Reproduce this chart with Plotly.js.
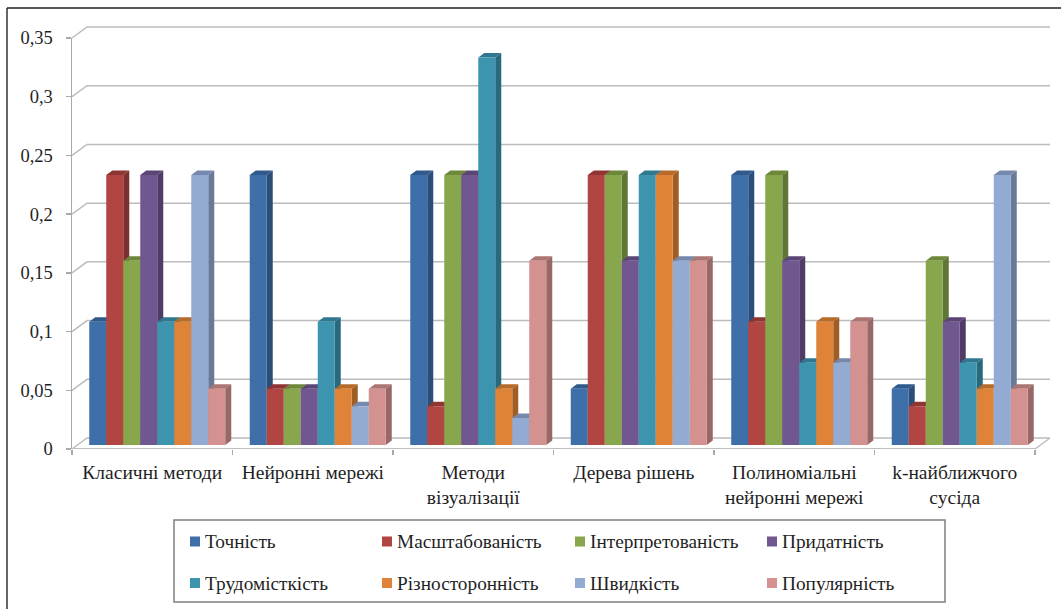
<!DOCTYPE html>
<html>
<head>
<meta charset="utf-8">
<script src="https://cdn.plot.ly/plotly-3.0.1.min.js"></script>
<style>html,body{margin:0;padding:0;background:#fff;overflow:hidden}#chart{width:1061px;height:609px}</style>
</head>
<body>
<div id="chart"></div>
<script>
const categories = ["Класичні методи","Нейронні мережі","Методи<br>візуалізації","Дерева рішень","Полиноміальні<br>нейронні мережі","k-найближчого<br>сусіда"];
const seriesNames = ["Точність","Масштабованість","Інтерпретованість","Придатність","Трудомісткість","Різносторонність","Швидкість","Популярність"];
const tochnist = [0.105,0.23,0.23,0.048,0.23,0.048];
const masshtab = [0.23,0.048,0.033,0.23,0.105,0.033];
const interpret = [0.157,0.048,0.23,0.23,0.23,0.157];
const prydatnist = [0.23,0.048,0.23,0.157,0.157,0.105];
const trudomist = [0.105,0.105,0.33,0.23,0.07,0.07];
const riznostor = [0.105,0.048,0.048,0.23,0.105,0.048];
const shvydkist = [0.23,0.033,0.023,0.157,0.07,0.23];
const populyarn = [0.048,0.048,0.157,0.157,0.105,0.048];
const seriesValues = [tochnist,masshtab,interpret,prydatnist,trudomist,riznostor,shvydkist,populyarn];
const yTicks = [0,0.05,0.1,0.15,0.2,0.25,0.3,0.35];
const yTickText = ["0","0,05","0,1","0,15","0,2","0,25","0,3","0,35"];
const frontColors = ["#3F6FA8","#B04542","#88A64C","#71578F","#3C94AF","#DE8337","#93AAD2","#D39190"];
const sideColors = ["#2A4E78","#7D2F2D","#5F7634","#4F3C66","#29697D","#A05D24","#687A98","#976865"];
const topColors = ["#305A8C","#8F3532","#6D883B","#5B4575","#2F7890","#B66B2B","#7688AD","#AB7573"];

const W = 1061, H = 609;
const FONT = "Liberation Serif, Times New Roman, serif";
const TEXT = "#1f1f1f";
const AXIS = "#a9a9a9", GRID = "#bcbcbc";
// projection, in pixels
const X0 = 72, CAT = 160.5, Y0 = 449, UNIT = 411 / 0.35;
const BACK_DX = 15, BACK_DY = 11, BAR_DX = 5, BAR_DY = 4, SIDE_DX = 6, SIDE_DY = 4.5;
const BAR_W = 17 / CAT, BARGAP = 1 - 8 * BAR_W;
const fx = p => p / W, fy = p => 1 - p / H;
const sceneX = (ox) => [(0 - X0 - ox) / CAT, (W - X0 - ox) / CAT];
const sceneY = (oy) => [(Y0 - oy - H) / UNIT, (Y0 - oy) / UNIT];

const traces = [];
// carrier for the labelled front axes
traces.push({type:"scatter",mode:"lines",x:[0,6],y:[0,0],xaxis:"x",yaxis:"y",line:{color:AXIS,width:1.5},hoverinfo:"skip",showlegend:false,cliponaxis:false});

// walls
const gx = [], gy = [];
const bdx = BACK_DX / CAT, bdy = BACK_DY / UNIT;
yTicks.forEach(v => { gx.push(0, bdx, 6 + bdx, null); gy.push(v, v + bdy, v + bdy, null); });
gx.push(6, 6 + bdx, null); gy.push(0, bdy, null);
traces.push({type:"scatter",mode:"lines",x:gx,y:gy,xaxis:"x2",yaxis:"y2",line:{color:GRID,width:1.5},hoverinfo:"skip",showlegend:false});

// depth faces, painted left to right
const sdx = SIDE_DX / CAT, sdy = SIDE_DY / UNIT;
seriesValues.forEach((vals, i) => {
  const sx = [], sy = [], tx = [], ty = [];
  vals.forEach((v, c) => {
    const l = c + 0.5 + (i - 4) * BAR_W, r = l + BAR_W;
    sx.push(r, r + sdx, r + sdx, r, r, null); sy.push(0, sdy, v + sdy, v, 0, null);
    tx.push(l, l + sdx, r + sdx, r, l, null); ty.push(v, v + sdy, v + sdy, v, v, null);
  });
  const face = (x, y, color) => ({type:"scatter",mode:"lines",x,y,fill:"toself",fillcolor:color,line:{width:0,color:color},xaxis:"x3",yaxis:"y3",hoverinfo:"skip",showlegend:false});
  traces.push(face(sx, sy, sideColors[i]));
  traces.push(face(tx, ty, topColors[i]));
});
// front faces
seriesValues.forEach((vals, i) => {
  traces.push({type:"bar",name:seriesNames[i],x:categories.map((_, c) => c + 0.5),y:vals,marker:{color:frontColors[i],line:{width:0}},xaxis:"x4",yaxis:"y4",showlegend:false});
});

const hiddenAxis = (range, extra) => Object.assign({range,domain:[0,1],visible:false,fixedrange:true}, extra);

const shapes = [
  {type:"line",xref:"paper",yref:"paper",x0:fx(7),x1:fx(7),y0:fy(8),y1:fy(H),line:{color:"#333",width:1.5}},
  {type:"line",xref:"paper",yref:"paper",x0:fx(7),x1:1,y0:fy(8),y1:fy(8),line:{color:"#222",width:1.5}},
  {type:"rect",xref:"paper",yref:"paper",x0:fx(174),x1:fx(945),y0:fy(520),y1:fy(602),line:{color:"#808080",width:1.5},fillcolor:"#fff"}
];
const annotations = [];
const colX = [190,382,575,767], rowY = [541.5,583];
seriesNames.forEach((n, i) => {
  const cx = colX[i % 4], cy = rowY[i < 4 ? 0 : 1];
  shapes.push({type:"rect",xref:"paper",yref:"paper",x0:fx(cx),x1:fx(cx+10),y0:fy(cy-5),y1:fy(cy+5),line:{width:0},fillcolor:frontColors[i]});
  annotations.push({xref:"paper",yref:"paper",x:fx(cx+13),y:fy(cy),xanchor:"left",yanchor:"middle",text:n,showarrow:false,font:{family:FONT,size:19.3,color:TEXT}});
});

const layout = {
  width:W,height:H,margin:{l:0,r:0,t:0,b:0},paper_bgcolor:"#fff",plot_bgcolor:"rgba(0,0,0,0)",
  showlegend:false,barmode:"group",bargap:BARGAP,bargroupgap:0,
  xaxis:{domain:[fx(X0),fx(X0+6*CAT)],range:[0,6],tickmode:"array",tickvals:categories.map((_, c) => c + 0.5),ticktext:categories,ticks:"",
    tickfont:{family:FONT,size:19.5,color:TEXT},ticklabelstandoff:9,showgrid:false,zeroline:false,fixedrange:true,
    minor:{tickmode:"array",tickvals:[0,1,2,3,4,5,6],ticks:"outside",ticklen:5,tickwidth:1.5,tickcolor:AXIS,showgrid:false},anchor:"y"},
  yaxis:{domain:[fy(Y0),fy(38)],range:[0,0.35],tickmode:"array",tickvals:yTicks,ticktext:yTickText,ticks:"outside",ticklen:5,tickwidth:1.5,tickcolor:AXIS,
    tickfont:{family:FONT,size:18.5,color:TEXT},ticklabelstandoff:9,showline:true,linecolor:AXIS,linewidth:1.5,showgrid:false,zeroline:false,fixedrange:true,anchor:"x"},
  xaxis2:hiddenAxis(sceneX(0),{anchor:"y2"}),
  yaxis2:hiddenAxis(sceneY(0),{anchor:"x2"}),
  xaxis3:hiddenAxis(sceneX(BAR_DX),{anchor:"y3"}),
  yaxis3:hiddenAxis(sceneY(BAR_DY),{anchor:"x3"}),
  xaxis4:hiddenAxis(sceneX(BAR_DX),{anchor:"y4"}),
  yaxis4:hiddenAxis(sceneY(BAR_DY),{anchor:"x4"}),
  shapes,annotations
};
Plotly.newPlot("chart",traces,layout,{displayModeBar:false,staticPlot:true});
</script>
</body>
</html>
